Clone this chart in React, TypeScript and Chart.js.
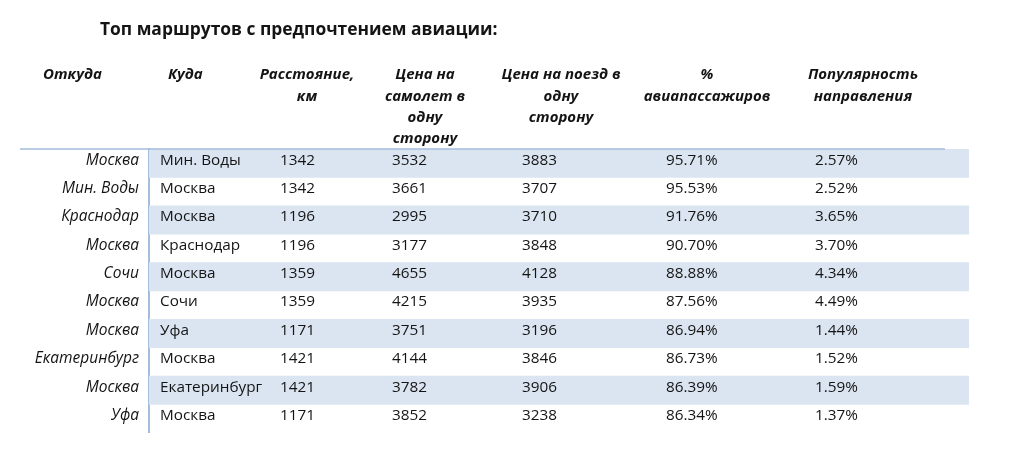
import { useEffect, useRef } from "react";
import { Chart, registerables } from "chart.js";

Chart.register(...registerables);

// ---- data ----
const TITLE = "Топ маршрутов с предпочтением авиации:";
const FROM = ["Москва", "Мин. Воды", "Краснодар", "Москва", "Сочи", "Москва", "Москва", "Екатеринбург", "Москва", "Уфа"];
const TO = ["Мин. Воды", "Москва", "Москва", "Краснодар", "Москва", "Сочи", "Уфа", "Москва", "Екатеринбург", "Москва"];
const DISTANCE_KM = [1342, 1342, 1196, 1196, 1359, 1359, 1171, 1421, 1421, 1171];
const PLANE_PRICE = [3532, 3661, 2995, 3177, 4655, 4215, 3751, 4144, 3782, 3852];
const TRAIN_PRICE = [3883, 3707, 3710, 3848, 4128, 3935, 3196, 3846, 3906, 3238];
const AIR_SHARE = [95.71, 95.53, 91.76, 90.70, 88.88, 87.56, 86.94, 86.73, 86.39, 86.34];
const POPULARITY = [2.57, 2.52, 3.65, 3.70, 4.34, 4.49, 1.44, 1.52, 1.59, 1.37];
const HEADERS = [
  ["Откуда"],
  ["Куда"],
  ["Расстояние,", "км"],
  ["Цена на", "самолет в", "одну", "сторону"],
  ["Цена на поезд в", "одну", "сторону"],
  ["%", "авиапассажиров"],
  ["Популярность", "направления"],
];

// ---- layout (x scale units, chart area starts at 0) ----
const X_MAX = 820;
const TITLE_X = -49;
const TITLE_Y = 30;
const HEADER_POS: { x: number; align: CanvasTextAlign }[] = [
  { x: -106, align: "left" },
  { x: 19, align: "left" },
  { x: 158, align: "center" },
  { x: 276, align: "center" },
  { x: 412, align: "center" },
  { x: 558, align: "center" },
  { x: 714, align: "center" },
];
const HEADER_Y0 = 75;
const HEADER_LH = 21.3;
const CELL_X = [11, 131, 243, 373, 517, 666];
const RULE_FROM = -129;
const RULE_TO = 796;
const TEXT_SHIFT = -3;

const FONT = "'Open Sans', 'Noto Sans', sans-serif";
const TEXT_COLOR = "#141414";
const STRIPE = "#dbe5f1";
const RULE = "#a3bddc";

const tablePlugin = {
  id: "tableText",
  afterDatasetsDraw(chart: any) {
    const { ctx, chartArea, scales } = chart;
    const x = scales.x;
    const y = scales.y;
    ctx.save();
    // top rule
    ctx.strokeStyle = RULE;
    ctx.lineWidth = 1.5;
    ctx.beginPath();
    ctx.moveTo(x.getPixelForValue(RULE_FROM), chartArea.top);
    ctx.lineTo(x.getPixelForValue(RULE_TO), chartArea.top);
    ctx.stroke();

    ctx.fillStyle = TEXT_COLOR;
    ctx.textBaseline = "middle";
    // title
    ctx.font = `bold 17.4px ${FONT}`;
    ctx.textAlign = "left";
    ctx.fillText(TITLE, x.getPixelForValue(TITLE_X), TITLE_Y);

    // headers
    ctx.font = `italic bold 15px ${FONT}`;
    HEADERS.forEach((lines, c) => {
      const h = HEADER_POS[c];
      ctx.textAlign = h.align;
      lines.forEach((ln, k) => {
        ctx.fillText(ln, x.getPixelForValue(h.x), HEADER_Y0 + k * HEADER_LH);
      });
    });

    // cells
    ctx.font = `15.3px ${FONT}`;
    ctx.textAlign = "left";
    const cols: string[][] = [
      TO,
      DISTANCE_KM.map(String),
      PLANE_PRICE.map(String),
      TRAIN_PRICE.map(String),
      AIR_SHARE.map((v) => v.toFixed(2) + "%"),
      POPULARITY.map((v) => v.toFixed(2) + "%"),
    ];
    cols.forEach((vals, c) => {
      vals.forEach((v, r) => {
        ctx.fillText(v, x.getPixelForValue(CELL_X[c]), y.getPixelForValue(r) + TEXT_SHIFT);
      });
    });
    ctx.restore();
  },
};

export default function App() {
  const ref = useRef<HTMLCanvasElement | null>(null);
  useEffect(() => {
    if (!ref.current) return;
    const chart = new Chart(ref.current, {
      type: "bar",
      data: {
        labels: FROM,
        datasets: [
          {
            data: FROM.map((_, i) => (i % 2 === 0 ? [0, X_MAX] : null)) as any,
            backgroundColor: STRIPE,
            borderWidth: 0,
            barPercentage: 1,
            categoryPercentage: 1,
          },
        ],
      },
      options: {
        indexAxis: "y",
        animation: false,
        responsive: false,
        events: [],
        layout: { padding: { top: 149, bottom: 19, left: 0, right: 55 } },
        plugins: { legend: { display: false }, tooltip: { enabled: false }, title: { display: false } },
        scales: {
          x: { type: "linear", display: false, min: 0, max: X_MAX },
          y: {
            type: "category",
            position: "left",
            grid: { display: false, drawTicks: false },
            border: { display: true, color: RULE, width: 2 },
            ticks: {
              color: TEXT_COLOR,
              padding: 10,
              labelOffset: TEXT_SHIFT,
              font: { family: FONT, size: 15.5, style: "italic" },
            },
            afterFit: (scale: any) => {
              scale.width = 149;
            },
          },
        },
      },
      plugins: [tablePlugin],
    });
    return () => chart.destroy();
  }, []);
  return (
    <div style={{ position: "absolute", left: 0, top: 0, width: 1024, height: 452, background: "#fff" }}>
      <canvas ref={ref} width={1024} height={452} style={{ display: "block" }} />
    </div>
  );
}
